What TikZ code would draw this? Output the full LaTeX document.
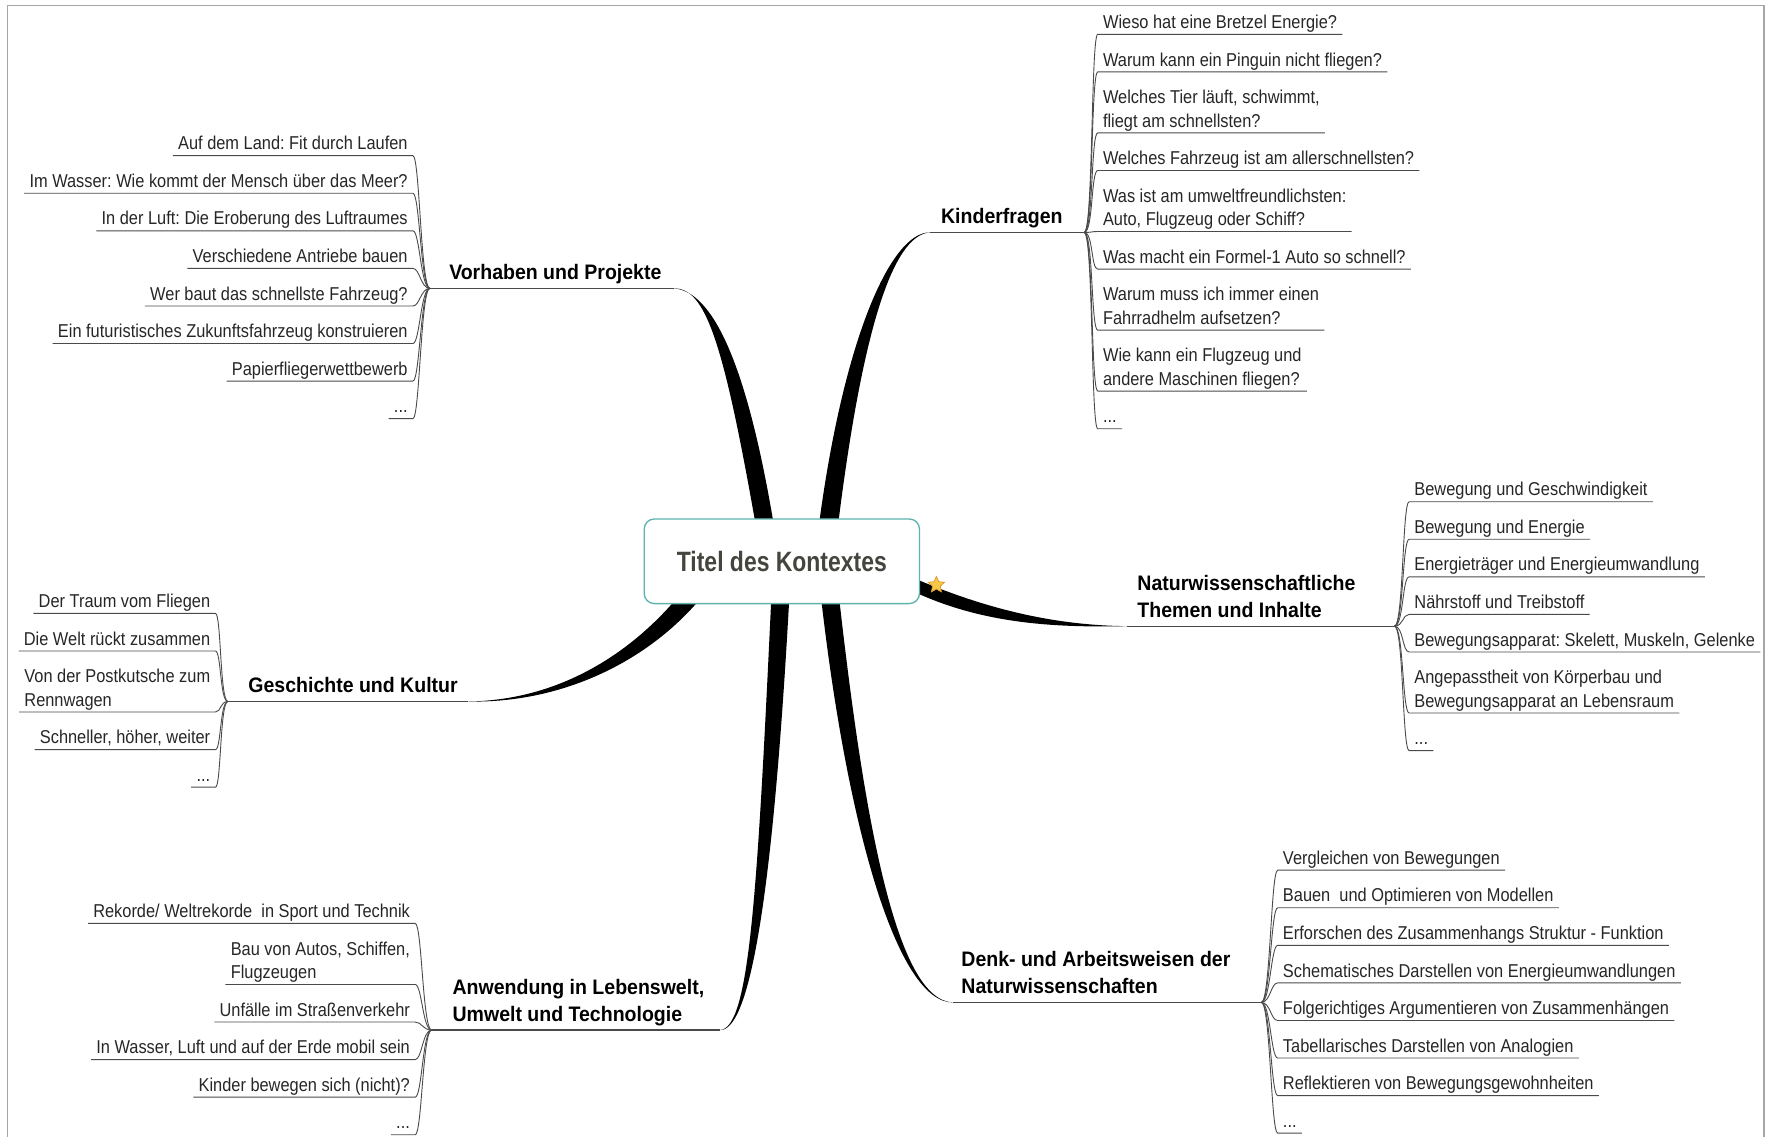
\documentclass[tikz,border=0pt]{standalone}
\usepackage{fontspec}
\usepackage{tikz}
\usetikzlibrary{
  positioning,
  shapes.geometric,
  backgrounds
}
\newfontfamily\leaffont{Liberation Sans}[FakeStretch=0.88]
\newfontfamily\topicfont{Liberation Sans}[FakeStretch=0.93]
\newfontfamily\titlefont{Liberation Sans}[FakeStretch=0.82]
\frenchspacing
\definecolor{mmHub}{HTML}{5FB3AE}
\definecolor{mmTitle}{HTML}{45453F}
\definecolor{mmText}{HTML}{262626}
\definecolor{mmLine}{HTML}{4A4A4A}
\definecolor{mmFrame}{HTML}{A6A6A6}
\definecolor{mmStar}{HTML}{F7C948}
\definecolor{mmStarEdge}{HTML}{E39A2D}
\tikzset{
  hub/.style={
    draw=mmHub, line width=1.2pt, fill=white, rounded corners=9pt,
    minimum width=244pt, minimum height=75pt, text=mmTitle,
    font=\titlefont\bfseries\fontsize{24.8}{28}\selectfont
  },
  topic/.style={
    font=\topicfont\bfseries\fontsize{18.6}{24.2}\selectfont, text=black,
    inner xsep=0pt, inner ysep=3.5pt, text depth=4pt, align=left
  },
  leaf/.style={
    font=\leaffont\fontsize{16.5}{20.8}\selectfont, text=mmText,
    inner xsep=4.5pt, inner ysep=2pt, text depth=3pt, align=left
  },
  branch/.style={fill=black, draw=none},
  stem/.style={draw=mmLine, line width=1.1pt},
  twig/.style={draw=mmLine, line width=0.8pt},
  frame/.style={draw=mmFrame, line width=1pt},
  prio/.style={star, star points=5, star point ratio=2.1, minimum size=15pt,
    inner sep=0pt, fill=mmStar, draw=mmStarEdge, line width=0.7pt}
}
\begin{document}
\begin{tikzpicture}[x=1pt, y=-1pt, node distance=33.3pt]
  \useasboundingbox (0,0) rectangle (1568,1007);
  \draw[frame] (6.5,4.5) rectangle (1563.5,1020);

  % centre
  \node[hub] (hub) at (693,497.5) {Titel des Kontextes};

  % main topics
  \node[topic, anchor=south west] (vor) at (398,255.6) {Vorhaben und Projekte};
  \node[topic, anchor=south west] (kin) at (834,206) {Kinderfragen};
  \node[topic, anchor=south west] (nat) at (1008,555) {Naturwissenschaftliche\\Themen und Inhalte};
  \node[topic, anchor=south west] (den) at (852,888.5) {Denk- und Arbeitsweisen der\\Naturwissenschaften};
  \node[topic, anchor=south west] (anw) at (401,913) {Anwendung in Lebenswelt,\\Umwelt und Technologie};
  \node[topic, anchor=south west] (ges) at (220,621.8) {Geschichte und Kultur};

  \coordinate (vorJ) at (381,255.6);   \coordinate (vorB) at (597,255.6);
  \coordinate (kinJ) at (961,206);     \coordinate (kinB) at (824.5,206);
  \coordinate (natJ) at (1236,555);    \coordinate (natB) at (999,555);
  \coordinate (denJ) at (1118,888.5);  \coordinate (denB) at (845,888.5);
  \coordinate (anwJ) at (382.6,913);   \coordinate (anwB) at (638,913);
  \coordinate (gesJ) at (202,621.8);   \coordinate (gesB) at (415,621.8);

  % Vorhaben und Projekte
  \node[leaf, anchor=south east] (vor1) at (366,138) {Auf dem Land: Fit durch Laufen};
  \node[leaf, below=of vor1.south east, anchor=south east] (vor2) {Im Wasser: Wie kommt der Mensch über das Meer?};
  \node[leaf, below=of vor2.south east, anchor=south east] (vor3) {In der Luft: Die Eroberung des Luftraumes};
  \node[leaf, below=of vor3.south east, anchor=south east] (vor4) {Verschiedene Antriebe bauen};
  \node[leaf, below=of vor4.south east, anchor=south east] (vor5) {Wer baut das schnellste Fahrzeug?};
  \node[leaf, below=of vor5.south east, anchor=south east] (vor6) {Ein futuristisches Zukunftsfahrzeug konstruieren};
  \node[leaf, below=of vor6.south east, anchor=south east] (vor7) {Papierfliegerwettbewerb};
  \node[leaf, below=of vor7.south east, anchor=south east] (vor8) {...};

  % Kinderfragen
  \node[leaf, anchor=south west] (kin1) at (973,30.4) {Wieso hat eine Bretzel Energie?};
  \node[leaf, below=of kin1.south west, anchor=south west] (kin2) {Warum kann ein Pinguin nicht fliegen?};
  \node[leaf, below=54.1pt of kin2.south west, anchor=south west] (kin3) {Welches Tier läuft, schwimmt,\\fliegt am schnellsten?};
  \node[leaf, below=of kin3.south west, anchor=south west] (kin4) {Welches Fahrzeug ist am allerschnellsten?};
  \node[leaf, below=54.1pt of kin4.south west, anchor=south west] (kin5) {Was ist am umweltfreundlichsten:\\Auto, Flugzeug oder Schiff?};
  \node[leaf, below=of kin5.south west, anchor=south west] (kin6) {Was macht ein Formel-1 Auto so schnell?};
  \node[leaf, below=54.1pt of kin6.south west, anchor=south west] (kin7) {Warum muss ich immer einen\\Fahrradhelm aufsetzen?};
  \node[leaf, below=54.1pt of kin7.south west, anchor=south west] (kin8) {Wie kann ein Flugzeug und\\andere Maschinen fliegen?};
  \node[leaf, below=of kin8.south west, anchor=south west] (kin9) {...};

  % Naturwissenschaftliche Themen und Inhalte
  \node[leaf, anchor=south west] (nat1) at (1249,444.7) {Bewegung und Geschwindigkeit};
  \node[leaf, below=of nat1.south west, anchor=south west] (nat2) {Bewegung und Energie};
  \node[leaf, below=of nat2.south west, anchor=south west] (nat3) {Energieträger und Energieumwandlung};
  \node[leaf, below=of nat3.south west, anchor=south west] (nat4) {Nährstoff und Treibstoff};
  \node[leaf, below=of nat4.south west, anchor=south west] (nat5) {Bewegungsapparat: Skelett, Muskeln, Gelenke};
  \node[leaf, below=54.1pt of nat5.south west, anchor=south west] (nat6) {Angepasstheit von Körperbau und\\Bewegungsapparat an Lebensraum};
  \node[leaf, below=of nat6.south west, anchor=south west] (nat7) {...};

  % Geschichte und Kultur
  \node[leaf, anchor=south east] (ges1) at (191,543.7) {Der Traum vom Fliegen};
  \node[leaf, below=of ges1.south east, anchor=south east] (ges2) {Die Welt rückt zusammen};
  \node[leaf, below=54.1pt of ges2.south east, anchor=south east] (ges3) {Von der Postkutsche zum\\Rennwagen};
  \node[leaf, below=of ges3.south east, anchor=south east] (ges4) {Schneller, höher, weiter};
  \node[leaf, below=of ges4.south east, anchor=south east] (ges5) {...};

  % Anwendung in Lebenswelt, Umwelt und Technologie
  \node[leaf, anchor=south east] (anw1) at (368,818.5) {Rekorde/ Weltrekorde\ \ in Sport und Technik};
  \node[leaf, below=54.1pt of anw1.south east, anchor=south east] (anw2) {Bau von Autos, Schiffen,\\Flugzeugen};
  \node[leaf, below=of anw2.south east, anchor=south east] (anw3) {Unfälle im Straßenverkehr};
  \node[leaf, below=of anw3.south east, anchor=south east] (anw4) {In Wasser, Luft und auf der Erde mobil sein};
  \node[leaf, below=of anw4.south east, anchor=south east] (anw5) {Kinder bewegen sich (nicht)?};
  \node[leaf, below=of anw5.south east, anchor=south east] (anw6) {...};

  % Denk- und Arbeitsweisen der Naturwissenschaften
  \node[leaf, anchor=south west] (den1) at (1132.5,771.3) {Vergleichen von Bewegungen};
  \node[leaf, below=of den1.south west, anchor=south west] (den2) {Bauen\ \ und Optimieren von Modellen};
  \node[leaf, below=of den2.south west, anchor=south west] (den3) {Erforschen des Zusammenhangs Struktur - Funktion};
  \node[leaf, below=of den3.south west, anchor=south west] (den4) {Schematisches Darstellen von Energieumwandlungen};
  \node[leaf, below=of den4.south west, anchor=south west] (den5) {Folgerichtiges Argumentieren von Zusammenhängen};
  \node[leaf, below=of den5.south west, anchor=south west] (den6) {Tabellarisches Darstellen von Analogien};
  \node[leaf, below=of den6.south west, anchor=south west] (den7) {Reflektieren von Bewegungsgewohnheiten};
  \node[leaf, below=of den7.south west, anchor=south west] (den8) {...};

  % topic underlines
  \draw[stem] (vorJ) -- (vorB);
  \draw[stem] (kinJ) -- (kinB);
  \draw[stem] (natJ) -- (natB);
  \draw[stem] (denJ) -- (denB);
  \draw[stem] (anwJ) -- (anwB);
  \draw[stem] (gesJ) -- (gesB);

  % leaf connectors with underline
  \foreach \i in {1,...,8}
    \draw[twig] (vorJ) .. controls +(-8,0) and +(6,0) .. (vor\i.south east) -- (vor\i.south west);
  \foreach \i in {1,...,9}
    \draw[twig] (kinJ) .. controls +(8,0) and +(-6,0) .. (kin\i.south west) -- (kin\i.south east);
  \foreach \i in {1,...,7}
    \draw[twig] (natJ) .. controls +(8,0) and +(-6,0) .. (nat\i.south west) -- (nat\i.south east);
  \foreach \i in {1,...,5}
    \draw[twig] (gesJ) .. controls +(-7,0) and +(5,0) .. (ges\i.south east) -- (ges\i.south west);
  \foreach \i in {1,...,6}
    \draw[twig] (anwJ) .. controls +(-8,0) and +(6,0) .. (anw\i.south east) -- (anw\i.south west);
  \foreach \i in {1,...,8}
    \draw[twig] (denJ) .. controls +(8,0) and +(-6,0) .. (den\i.south west) -- (den\i.south east);

  % thick branches behind the centre box
  \begin{scope}[on background layer]
    \fill[branch] (671,472) .. controls (641,300) and (625,255) .. (vorB)
      .. controls (625,257.5) and (659,300) .. (687,472) -- cycle;
    \fill[branch] (725,472) .. controls (747,300) and (790,205) .. (kinB)
      .. controls (790,207.8) and (763,300) .. (742,472) -- cycle;
    \fill[branch] (802,509) .. controls (868,538) and (930,554.2) .. (natB)
      .. controls (930,556.5) and (868,552) .. (808,523.5) -- cycle;
    \fill[branch] (727,523) .. controls (750,730) and (795,889.8) .. (denB)
      .. controls (795,887.5) and (766,730) .. (743,523) -- cycle;
    \fill[branch] (684,523) .. controls (671,800) and (664,911.8) .. (anwB)
      .. controls (664,914.5) and (685,800) .. (700,523) -- cycle;
    \fill[branch] (620.5,531) .. controls (575,585) and (500,623.5) .. (gesB)
      .. controls (500,620.5) and (565,575) .. (607.5,521) -- cycle;
  \end{scope}

  \node[prio] (star) at (830,518.5) {};
\end{tikzpicture}
\end{document}
